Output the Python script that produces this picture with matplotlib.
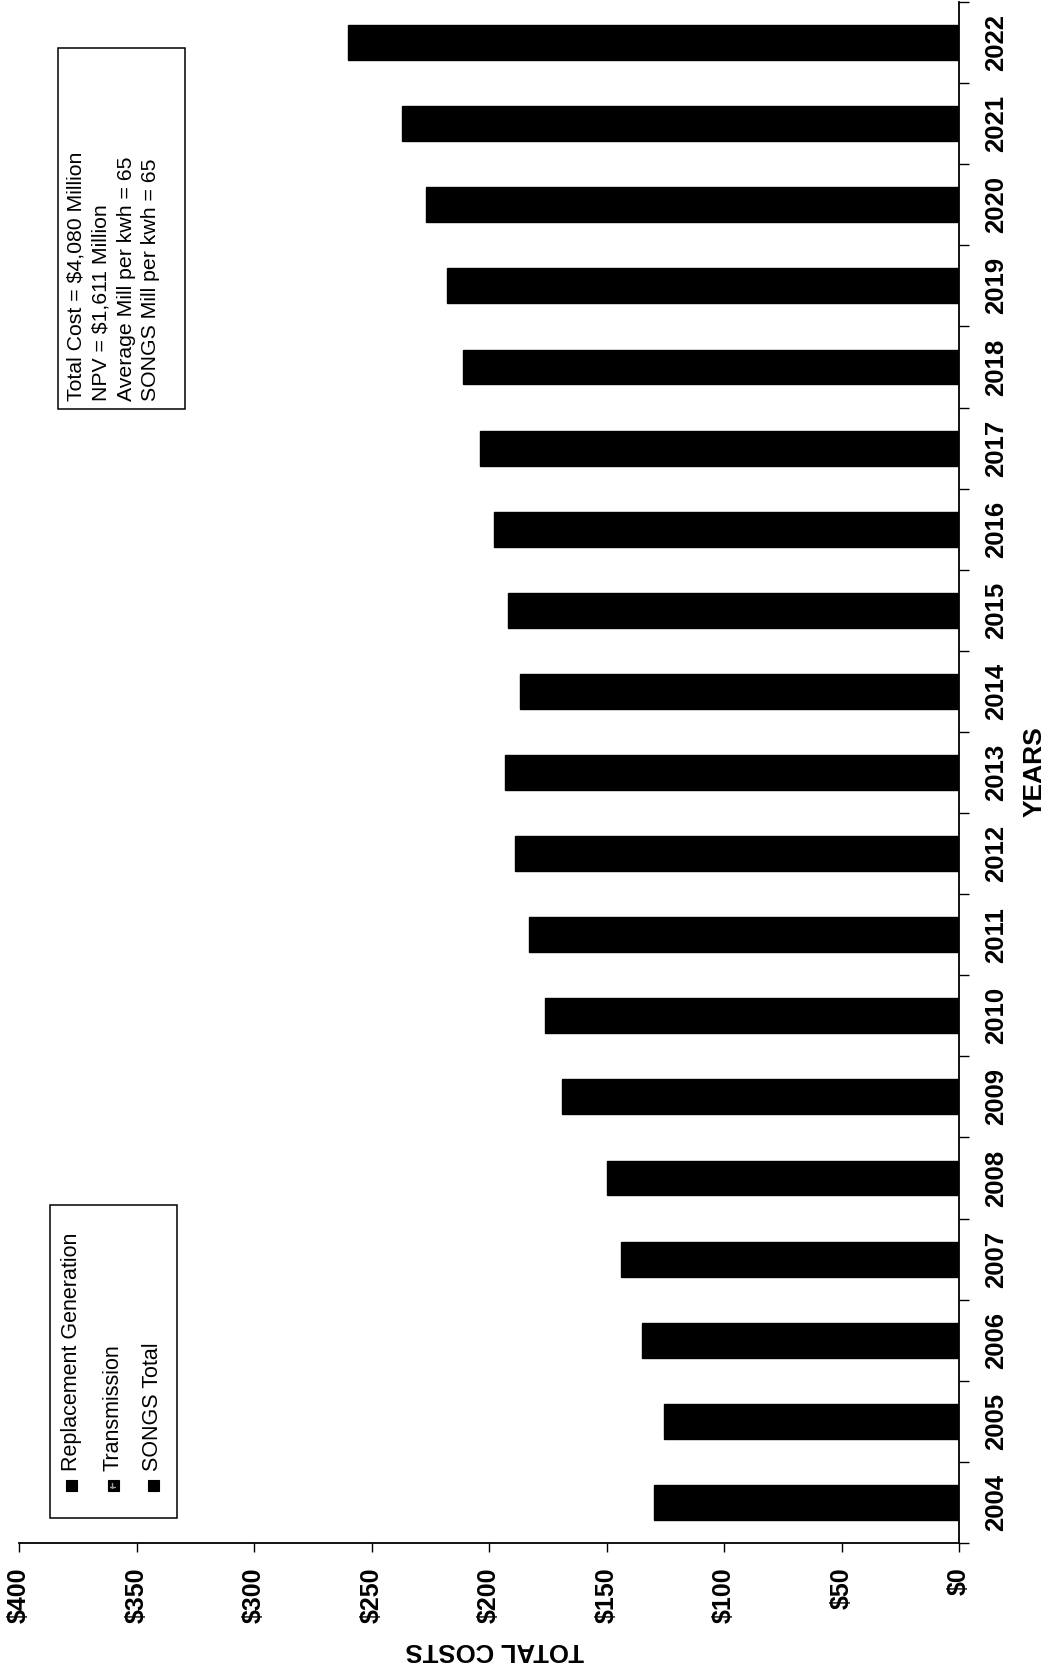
import numpy as np
import matplotlib
matplotlib.use("Agg")
import matplotlib.pyplot as plt
from matplotlib.patches import Rectangle
from matplotlib.transforms import Affine2D

plt.rcParams["font.family"] = ["Liberation Sans", "DejaVu Sans"]

# ---- data ($ millions per year) ----
years = [2004, 2005, 2006, 2007, 2008, 2009, 2010, 2011, 2012, 2013,
         2014, 2015, 2016, 2017, 2018, 2019, 2020, 2021, 2022]
total_costs = [130, 125.5, 135, 144, 150, 169, 176, 183, 189, 193,
               187, 192, 198, 204, 211, 218, 227, 237, 260]
value_ticks = [0, 50, 100, 150, 200, 250, 300, 350, 400]
legend_labels = ["Replacement Generation", "Transmission", "SONGS Total"]
summary_lines = ["Total Cost = $4,080 Million",
                 "NPV = $1,611 Million",
                 "Average Mill per kwh = 65",
                 "SONGS Mill per kwh = 65"]

W, H = 1061, 1671
fig = plt.figure(figsize=(W / 100, H / 100), dpi=100)
fig.patch.set_facecolor("white")

# pixel coordinates with origin at the top-left corner
pix = Affine2D().scale(1 / W, -1 / H).translate(0, 1) + fig.transFigure

ax_l, ax_r, ax_t, ax_b = 19, 959, 2, 1543
ax = fig.add_axes([ax_l / W, 1 - ax_b / H, (ax_r - ax_l) / W, (ax_b - ax_t) / H])

pos = np.arange(len(years))
ax.barh(pos, total_costs, height=0.43, color="black", edgecolor="black")

ax.set_xlim(400, 0)
ax.set_ylim(-0.5, len(years) - 0.5)

for side in ("top", "left"):
    ax.spines[side].set_visible(False)
for side in ("bottom", "right"):
    ax.spines[side].set_linewidth(1.3)

# value axis
ax.set_xticks(value_ticks)
ax.set_xticklabels([f"${v}" for v in value_ticks], rotation=90,
                   fontsize=18, fontweight="bold")
ax.tick_params(axis="x", direction="out", length=6.5, width=1.0, pad=11)

# category axis on the right, ticks between the years
ax.yaxis.tick_right()
ax.set_yticks(np.arange(len(years) + 1) - 0.5)
ax.set_yticklabels([])
ax.set_yticks(pos, minor=True)
ax.set_yticklabels([str(y) for y in years], minor=True, rotation=90,
                   fontsize=18.5, fontweight="bold", va="center")
ax.tick_params(axis="y", which="major", direction="out", length=7, width=1.0)
ax.tick_params(axis="y", which="minor", length=0, pad=18)

# axis titles
fig.text(495, 1650, "TOTAL COSTS", transform=pix, rotation=180,
         ha="center", va="center", fontsize=18.5, fontweight="bold")
fig.text(1035, 772, "YEARS", transform=pix, rotation=90,
         ha="center", va="center", fontsize=19, fontweight="bold")

# series key
fig.add_artist(Rectangle((50, 1205), 127, 313, transform=pix, fill=False,
                         edgecolor="black", linewidth=1.1))
key_x = [71, 113, 153]
for label, x in zip(legend_labels, key_x):
    fig.add_artist(Rectangle((x - 5.5, 1480), 11, 11, transform=pix,
                             facecolor="black", edgecolor="black", linewidth=0.8))
    if label == "Transmission":
        fig.add_artist(Rectangle((x - 3, 1482.5), 6, 6, transform=pix,
                                 facecolor="none", edgecolor="#9a9a9a",
                                 hatch="++", linewidth=0))
    fig.text(x, 1471, label, transform=pix, rotation=90,
             ha="center", va="bottom", fontsize=15.5)

# summary box
fig.add_artist(Rectangle((58, 48), 127, 361, transform=pix, fill=False,
                         edgecolor="black", linewidth=1.1))
line_x = [76, 101, 126, 151]
for text, x in zip(summary_lines, line_x):
    fig.text(x, 401, text, transform=pix, rotation=90,
             ha="center", va="bottom", fontsize=15.3)

fig.savefig("out.png", dpi=100, facecolor="white")
